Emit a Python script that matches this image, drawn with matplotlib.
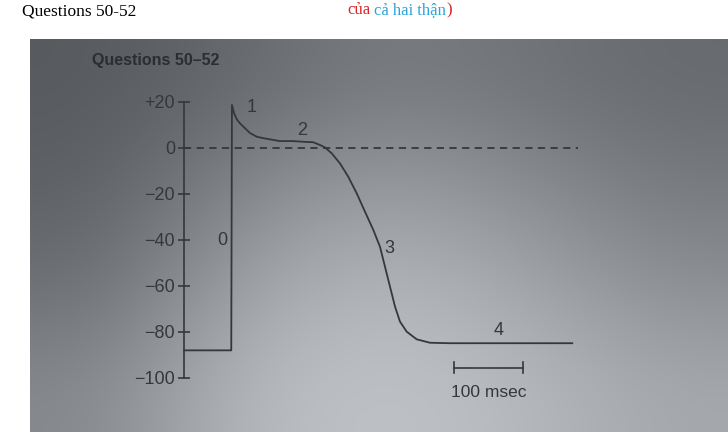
import numpy as np
import matplotlib
matplotlib.use("Agg")
import matplotlib.pyplot as plt

# action potential trace (time in ms, membrane potential in mV)
t_ms = [0, 69.5, 70.5, 73.5, 77.5, 82, 97, 107, 116, 141, 160, 181, 190, 200, 207,
        217.2, 229.4, 241.6, 254.0, 266.2, 278.4, 288.2, 295.6, 302.9, 310.3, 317.6,
        327.5, 342.2, 361.8, 391, 571]
mv = [-88, -88, 18.6, 15.1, 12.4, 10.7, 6.4, 4.8, 4.2, 2.9, 2.9, 2.5, 2.4, 1.2, 0.2,
      -2.4, -6.8, -12.6, -19.8, -27.8, -35.7, -43.0, -51.7, -60.3, -69.0, -75.5,
      -79.9, -83.2, -84.7, -84.9, -84.9]

yticks = [20, 0, -20, -40, -60, -80, -100]
ytick_labels = ['+20', '0', '\u221220', '\u221240', '\u221260', '\u221280', '\u2212100']

phase_labels = ['0', '1', '2', '3', '4']
phase_t = [56, 100, 173.5, 302, 462]
phase_mv = [-40.5, 17.7, 7.7, -43.7, -79.2]

scalebar_ms = [397, 499]
scalebar_mv = -95.5

ink = '#34373b'

fig = plt.figure(figsize=(7.28, 4.32), dpi=100)
fig.patch.set_facecolor('white')

# photographed page background
bg = fig.add_axes([0, 0, 1, 1])
bg.set_xlim(0, 728)
bg.set_ylim(432, 0)
bg.axis('off')
shade = np.array([
    [0x5a, 0x68, 0x7c, 0x74, 0x6a],
    [0x60, 0x86, 0x9e, 0x8e, 0x7a],
    [0x6e, 0xa2, 0xb8, 0xa8, 0x8e],
    [0x88, 0xb8, 0xc4, 0xba, 0xa8],
]) / 255.0
rgb = np.dstack([shade - 0.012, shade, shade + 0.015]).clip(0, 1)
bg.imshow(rgb, extent=(30, 728, 432, 39), interpolation='bicubic', aspect='auto')

bg.text(22, 16, 'Questions 50-52', family='Liberation Serif', fontsize=12.5,
        color='black', va='baseline')
bg.text(347, 14, 'của', family='Liberation Serif', fontsize=12,
        color='#d8262a', va='baseline')
bg.text(374, 14, 'cả hai thận', family='Liberation Serif', fontsize=12,
        color='#2ca4dc', va='baseline')
bg.text(446.5, 14, ')', family='Liberation Serif', fontsize=12,
        color='#d8262a', va='baseline')
bg.text(92, 60, 'Questions 50\u201352', family='Liberation Sans', fontsize=11.5,
        fontweight='bold', color='#2b2e31', va='center')

# the chart itself
ax = fig.add_axes([0.2434, 0.0984, 0.5698, 0.6928])
ax.patch.set_alpha(0)
ax.set_xlim(-10, 600)
ax.set_ylim(-105, 25)

for side in ['top', 'right', 'bottom']:
    ax.spines[side].set_visible(False)
ax.spines['left'].set_position(('data', 0))
ax.spines['left'].set_bounds(-100, 20)
ax.spines['left'].set_color(ink)
ax.spines['left'].set_linewidth(1.2)

ax.set_xticks([])
ax.set_yticks(yticks)
ax.set_yticklabels(ytick_labels)
ax.tick_params(axis='y', direction='inout', length=9, width=1.2, color=ink,
               pad=2, labelsize=13, labelcolor=ink)
for lab in ax.get_yticklabels():
    lab.set_family('Liberation Sans')

ax.plot([0, 580], [0, 0], color=ink, lw=1.3, linestyle=(0, (4, 3)))
ax.plot(t_ms, mv, color=ink, lw=1.3)

for lab, tx, vy in zip(phase_labels, phase_t, phase_mv):
    ax.text(tx, vy, lab, family='Liberation Sans', fontsize=13, color=ink,
            ha='center', va='center')

ax.plot(scalebar_ms, [scalebar_mv, scalebar_mv], color=ink, lw=1.2)
for sx in scalebar_ms:
    ax.plot([sx, sx], [scalebar_mv - 2.5, scalebar_mv + 2.5], color=ink, lw=1.2)
ax.text(np.mean(scalebar_ms), -106.4, '100 msec', family='Liberation Sans',
        fontsize=12.5, color=ink, ha='center', va='center')

fig.savefig('out.png', dpi=100)
